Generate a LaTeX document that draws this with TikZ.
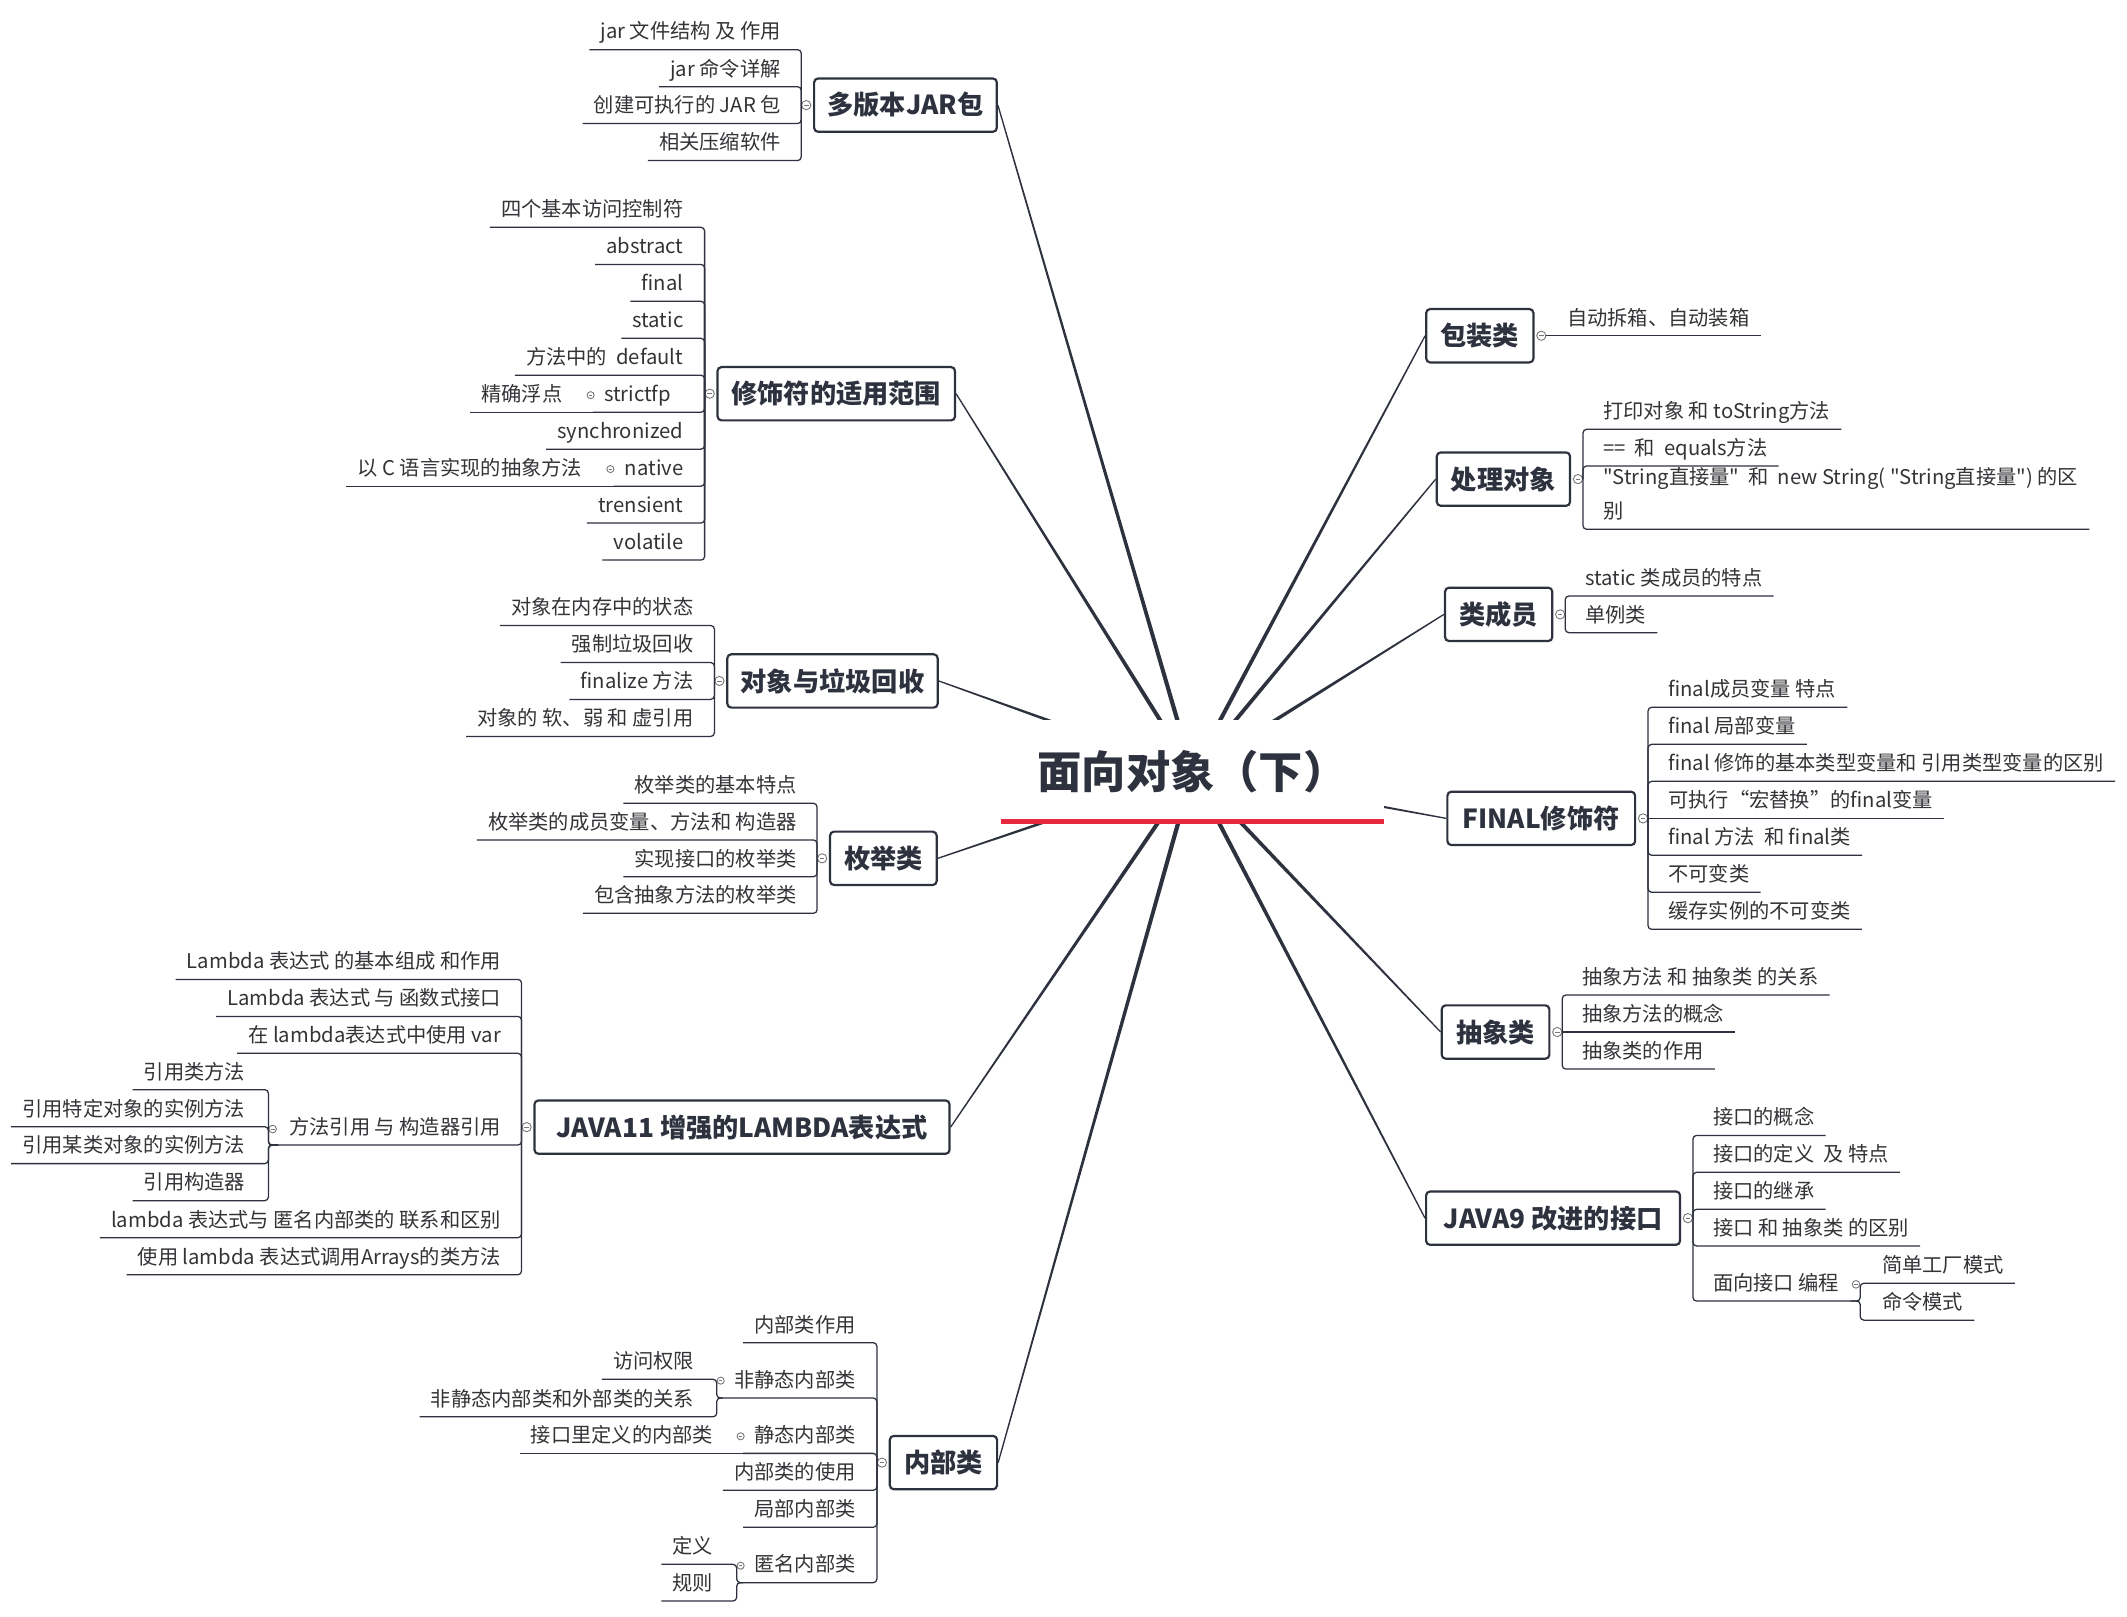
\documentclass[tikz,border=0pt]{standalone}
\usepackage{fontspec}
\setmainfont{Noto Sans CJK SC}[Ligatures=TeXOff]
\usepackage{tikz}
\usetikzlibrary{calc}
\definecolor{ink}{RGB}{45,50,62}
\definecolor{leafink}{RGB}{52,52,56}
\definecolor{knobgray}{RGB}{120,120,120}
\definecolor{titlered}{RGB}{232,40,60}
\pgfdeclarelayer{background}
\pgfsetlayers{background,main}
\tikzset{
    topic/.style={
        rectangle,
        rounded corners=2.2pt,
        draw=ink,
        line width=1.2pt,
        fill=white,
        minimum height=29.5pt,
        inner xsep=0pt,
        text=ink,
        font=\fontsize{14.5pt}{17pt}\selectfont\bfseries
    },
    roottopic/.style={
        rectangle,
        fill=white,
        minimum width=211.5pt,
        minimum height=57.5pt,
        text=ink,
        font=\fontsize{24.5pt}{29pt}\selectfont\bfseries
    },
    leaf/.style={
        inner xsep=6pt,
        inner ysep=2.7pt,
        text height=8.5pt,
        text depth=3pt,
        text=leafink,
        font=\fontsize{11.2pt}{18.75pt}\selectfont
    },
    leafL/.style={leaf, anchor=south east},
    leafR/.style={leaf, anchor=south west},
    knob/.style={
        circle,
        draw=knobgray,
        line width=0.5pt,
        fill=white,
        inner sep=0pt,
        minimum size=5.1pt,
        path picture={\draw[knobgray, line width=0.4pt]
            ($(path picture bounding box.west)!0.25!(path picture bounding box.east)$) --
            ($(path picture bounding box.west)!0.75!(path picture bounding box.east)$);}
    },
    subknob/.style={knob, minimum size=3.9pt},
    branch/.style={draw=ink, line width=0.7pt, rounded corners=2pt},
    spoke/.style={fill=ink}
}
\begin{document}
\begin{tikzpicture}[x=0.75pt, y=-0.75pt]
    \path[use as bounding box] (0,0) rectangle (1568,1192);

    % Central topic
    \node[roottopic] (root) at (879.1,569.1) {面向对象（下）};
    \draw[titlered, line width=2.8pt] ([yshift=1.8pt]root.south west) -- ([yshift=1.8pt]root.south east);

    % Main topics, left
    \node[topic, minimum width=101pt] (mjar) at (667.5,77.5) {多版本JAR包};
    \node[topic, minimum width=131.3pt] (mod) at (616.5,290.25) {修饰符的适用范围};
    \node[topic, minimum width=116.3pt] (gc) at (613.7,502) {对象与垃圾回收};
    \node[topic, minimum width=59pt] (enum) at (651.2,632.75) {枚举类};
    \node[topic, minimum width=229.5pt] (lam) at (547,830.9) {JAVA11 增强的LAMBDA表达式};
    \node[topic, minimum width=59.3pt] (inner) at (695.5,1078.2) {内部类};

    % Main topics, right
    \node[topic, minimum width=59.3pt] (wrap) at (1090.9,247.5) {包装类};
    \node[topic, minimum width=73.7pt] (obj) at (1108.3,353.2) {处理对象};
    \node[topic, minimum width=59.3pt] (mem) at (1104.8,452.9) {类成员};
    \node[topic, minimum width=103.8pt] (fin) at (1136.2,603.3) {FINAL修饰符};
    \node[topic, minimum width=59.5pt] (abs) at (1102.5,760.8) {抽象类};
    \node[topic, minimum width=140.4pt] (itf) at (1144.9,898) {JAVA9 改进的接口};

    % Collapse knobs
    \foreach \n in {mjar,mod,gc,enum,lam,inner}
        \node[knob] (k\n) at ([xshift=-3.75pt]\n.west) {};
    \foreach \n in {wrap,obj,mem,fin,abs,itf}
        \node[knob] (k\n) at ([xshift=3.75pt]\n.east) {};

    % 多版本JAR包
    \node[leafL] (jar1) at (583.8,36.6) {jar 文件结构 及 作用};
    \node[leafL] (jar2) at (583.8,63.9) {jar 命令详解};
    \node[leafL] (jar3) at (583.8,91.1) {创建可执行的 JAR 包};
    \node[leafL] (jar4) at (583.8,118.4) {相关压缩软件};

    % 修饰符的适用范围
    \node[leafL] (mod1) at (512,167.6) {四个基本访问控制符};
    \node[leafL] (mod2) at (512,194.9) {abstract};
    \node[leafL] (mod3) at (512,222.1) {final};
    \node[leafL] (mod4) at (512,249.4) {static};
    \node[leafL] (mod5) at (512,276.6) {方法中的\ \ default};
    \node[leafL] (mod6) at (503,303.9) {strictfp};
    \node[subknob] (kmod6) at (435.4,291.3) {};
    \node[leafL] (mod6a) at (422.8,303.9) {精确浮点};
    \node[leafL] (mod7) at (512,331.1) {synchronized};
    \node[leafL] (mod8) at (512,358.4) {native};
    \node[subknob] (kmod8) at (450,345.8) {};
    \node[leafL] (mod8a) at (437.4,358.4) {以 C 语言实现的抽象方法};
    \node[leafL] (mod9) at (512,385.6) {trensient};
    \node[leafL] (mod10) at (512,412.9) {volatile};

    % 对象与垃圾回收
    \node[leafL] (gc1) at (519.5,461.1) {对象在内存中的状态};
    \node[leafL] (gc2) at (519.5,488.4) {强制垃圾回收};
    \node[leafL] (gc3) at (519.5,515.6) {finalize 方法};
    \node[leafL] (gc4) at (519.5,542.9) {对象的 软、弱 和 虚引用};

    % 枚举类
    \node[leafL] (en1) at (595.5,592.2) {枚举类的基本特点};
    \node[leafL] (en2) at (595.5,619.2) {枚举类的成员变量、方法和 构造器};
    \node[leafL] (en3) at (595.5,646.3) {实现接口的枚举类};
    \node[leafL] (en4) at (595.5,673.3) {包含抽象方法的枚举类};

    % JAVA11 增强的LAMBDA表达式
    \node[leafL] (lam1) at (377.6,722.0) {Lambda 表达式 的基本组成 和作用};
    \node[leafL] (lam2) at (377.6,749.3) {Lambda 表达式 与 函数式接口};
    \node[leafL] (lam3) at (377.6,776.5) {在 lambda表达式中使用 var};
    \node[leafL] (lam4) at (377.6,844.1) {方法引用 与 构造器引用};
    \node[subknob, minimum size=4.2pt] (klam4) at (201,832.3) {};
    \node[leafL] (lam4a) at (189,803.3) {引用类方法};
    \node[leafL] (lam4b) at (189,830.6) {引用特定对象的实例方法};
    \node[leafL] (lam4c) at (189,857.8) {引用某类对象的实例方法};
    \node[leafL] (lam4d) at (189,885.1) {引用构造器};
    \node[leafL] (lam5) at (377.6,912.4) {lambda 表达式与 匿名内部类的 联系和区别};
    \node[leafL] (lam6) at (377.6,939.7) {使用 lambda 表达式调用Arrays的类方法};

    % 内部类
    \node[leafL] (in1) at (639,989.8) {内部类作用};
    \node[leafL] (in2) at (639,1030.6) {非静态内部类};
    \node[subknob] (kin2) at (531.3,1017.8) {};
    \node[leafL] (in2a) at (520,1016.8) {访问权限};
    \node[leafL] (in2b) at (520,1044.4) {非静态内部类和外部类的关系};
    \node[leafL] (in3) at (639,1071.4) {静态内部类};
    \node[subknob] (kin3) at (546,1058.8) {};
    \node[leafL] (in3a) at (534,1071.4) {接口里定义的内部类};
    \node[leafL] (in4) at (639,1098.6) {内部类的使用};
    \node[leafL] (in5) at (639,1125.9) {局部内部类};
    \node[leafL] (in6) at (639,1166.7) {匿名内部类};
    \node[subknob] (kin6) at (546,1154.2) {};
    \node[leafL] (in6a) at (534,1153.2) {定义};
    \node[leafL] (in6b) at (534,1180.2) {规则};

    % 包装类
    \node[leafR] (wr1) at (1147,247.5) {自动拆箱、自动装箱};

    % 处理对象
    \node[leafR] (ob1) at (1173.7,316.5) {打印对象 和 toString方法};
    \node[leafR] (ob2) at (1173.7,343.5) {==\ \ 和\ \ equals方法};
    \node[leafR] (ob3) at (1173.7,390.2) {\begin{tabular}[b]{@{}l@{}}"String直接量"\ \ 和\ \ new String( "String直接量") 的区\\别\end{tabular}};

    % 类成员
    \node[leafR] (me1) at (1160.5,439.4) {static 类成员的特点};
    \node[leafR] (me2) at (1160.5,466.4) {单例类};

    % FINAL修饰符
    \node[leafR] (fi1) at (1221.6,521.4) {final成员变量 特点};
    \node[leafR] (fi2) at (1221.6,548.7) {final 局部变量};
    \node[leafR] (fi3) at (1221.6,576) {final 修饰的基本类型变量和 引用类型变量的区别};
    \node[leafR] (fi4) at (1221.6,603.3) {可执行“宏替换”的final变量};
    \node[leafR] (fi5) at (1221.6,630.5) {final 方法\ \ 和 final类};
    \node[leafR] (fi6) at (1221.6,657.8) {不可变类};
    \node[leafR] (fi7) at (1221.6,685.1) {缓存实例的不可变类};

    % 抽象类
    \node[leafR] (ab1) at (1158,733.5) {抽象方法 和 抽象类 的关系};
    \node[leafR] (ab2) at (1158,760.8) {抽象方法的概念};
    \node[leafR] (ab3) at (1158,788.1) {抽象类的作用};

    % JAVA9 改进的接口
    \node[leafR] (it1) at (1254.6,837) {接口的概念};
    \node[leafR] (it2) at (1254.6,864.2) {接口的定义\ \ 及 特点};
    \node[leafR] (it3) at (1254.6,891.5) {接口的继承};
    \node[leafR] (it4) at (1254.6,918.5) {接口 和 抽象类 的区别};
    \node[leafR] (it5) at (1254.6,959.1) {面向接口 编程};
    \node[subknob, minimum size=4.2pt] (kit5) at (1368.2,946.8) {};
    \node[leafR] (it5a) at (1379.2,946) {简单工厂模式};
    \node[leafR] (it5b) at (1379.2,973.2) {命令模式};

    % Branch lines, left side
    \foreach \c in {jar1,jar2,jar3,jar4}
        \draw[branch] (kmjar.west) |- (\c.south west);
    \foreach \c in {mod1,mod2,mod3,mod4,mod5,mod6,mod7,mod8,mod9,mod10}
        \draw[branch] (kmod.west) |- (\c.south west);
    \draw[branch] (mod6.south west) -- (mod6a.south west);
    \draw[branch] (mod8.south west) -- (mod8a.south west);
    \foreach \c in {gc1,gc2,gc3,gc4}
        \draw[branch] (kgc.west) |- (\c.south west);
    \foreach \c in {en1,en2,en3,en4}
        \draw[branch] (kenum.west) |- (\c.south west);
    \foreach \c in {lam1,lam2,lam3,lam4,lam5,lam6}
        \draw[branch] (klam.west) |- (\c.south west);
    \foreach \c in {lam4a,lam4b,lam4c,lam4d}
        \draw[branch] (lam4.south west) -- (klam4.west |- lam4.south) |- (\c.south west);
    \foreach \c in {in1,in2,in3,in4,in5,in6}
        \draw[branch] (kinner.west) |- (\c.south west);
    \foreach \c in {in2a,in2b}
        \draw[branch] (in2.south west) -- (kin2.west |- in2.south) |- (\c.south west);
    \draw[branch] (in3.south west) -- (in3a.south west);
    \foreach \c in {in6a,in6b}
        \draw[branch] (in6.south west) -- (kin6.west |- in6.south) |- (\c.south west);

    % Branch lines, right side
    \draw[branch] (kwrap.east) -- (wr1.south east);
    \foreach \c in {ob1,ob2,ob3}
        \draw[branch] (kobj.east) |- (\c.south east);
    \foreach \c in {me1,me2}
        \draw[branch] (kmem.east) |- (\c.south east);
    \foreach \c in {fi1,fi2,fi3,fi5,fi6,fi7}
        \draw[branch] (kfin.east) |- (\c.south east);
    \draw[branch] (kfin.east) -- (fi4.south east);
    \foreach \c in {ab1,ab3}
        \draw[branch] (kabs.east) |- (\c.south east);
    \draw[branch] (kabs.east) -- (ab2.south east);
    \foreach \c in {it1,it2,it3,it4,it5}
        \draw[branch] (kitf.east) |- (\c.south east);
    \foreach \c in {it5a,it5b}
        \draw[branch] (it5.south east) -- (kit5.east |- it5.south) |- (\c.south east);

    % Tapered spokes from the centre
    \begin{pgfonlayer}{background}
        \fill[white] (0,0) rectangle (1568,1192);
        \foreach \n in {mjar,mod,gc,enum,lam,inner}
            \fill[spoke] ($(root.center)!1.25pt!90:(\n.east)$) -- ($(\n.east)!0.35pt!-90:(root.center)$)
                -- ($(\n.east)!0.35pt!90:(root.center)$) -- ($(root.center)!1.25pt!-90:(\n.east)$) -- cycle;
        \foreach \n in {wrap,obj,mem,fin,abs,itf}
            \fill[spoke] ($(root.center)!1.25pt!90:(\n.west)$) -- ($(\n.west)!0.35pt!-90:(root.center)$)
                -- ($(\n.west)!0.35pt!90:(root.center)$) -- ($(root.center)!1.25pt!-90:(\n.west)$) -- cycle;
    \end{pgfonlayer}
\end{tikzpicture}
\end{document}
